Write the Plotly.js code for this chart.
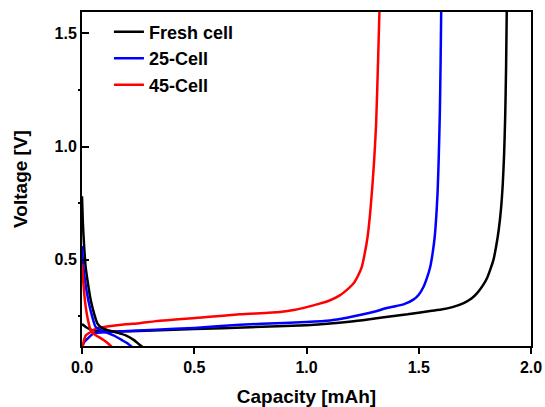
<!DOCTYPE html>
<html>
<head>
<meta charset="utf-8">
<script src="https://cdn.plot.ly/plotly-3.0.1.min.js"></script>
<style>html,body{margin:0;padding:0;background:#fff;}#chart{width:545px;height:407px;}</style>
</head>
<body>
<div id="chart"></div>
<script>
// Series names
const names = ["Fresh cell", "25-Cell", "45-Cell"];
const colors = ["#000000", "#0000ff", "#ff0000"];

// Discharge branches (capacity mAh, voltage V)
const freshDisCap = [0, 0.004, 0.01, 0.016, 0.024, 0.039, 0.054, 0.069, 0.09, 0.12, 0.16, 0.195, 0.23, 0.255, 0.275];
const freshDisV   = [0.78, 0.66, 0.55, 0.47, 0.411, 0.32, 0.261, 0.217, 0.197, 0.187, 0.176, 0.165, 0.145, 0.125, 0.11];
const c25DisCap = [0, 0.005, 0.013, 0.028, 0.046, 0.061, 0.09, 0.12, 0.15, 0.18, 0.205, 0.225];
const c25DisV   = [0.56, 0.48, 0.41, 0.32, 0.246, 0.202, 0.185, 0.173, 0.16, 0.143, 0.128, 0.112];
const c45DisCap = [0, 0.005, 0.013, 0.024, 0.039, 0.061, 0.08, 0.098, 0.115, 0.135];
const c45DisV   = [0.48, 0.41, 0.32, 0.246, 0.187, 0.165, 0.155, 0.143, 0.13, 0.112];

// Charge branches
const freshChCap = [0, 0.02, 0.05, 0.1, 0.25, 0.5, 0.75, 1.0, 1.105, 1.2, 1.328, 1.45, 1.551, 1.6, 1.65, 1.70, 1.735, 1.76, 1.785, 1.805, 1.82, 1.833, 1.845, 1.856, 1.866, 1.874, 1.88, 1.885, 1.889, 1.892];
const freshChV   = [0.215, 0.2, 0.187, 0.183, 0.184, 0.193, 0.201, 0.21, 0.217, 0.226, 0.243, 0.258, 0.273, 0.279, 0.29, 0.308, 0.328, 0.352, 0.385, 0.42, 0.46, 0.5, 0.56, 0.63, 0.72, 0.83, 0.96, 1.13, 1.35, 1.6];
const c25ChCap = [0.002, 0.01, 0.024, 0.04, 0.054, 0.12, 0.329, 0.5, 0.703, 0.9, 1.0, 1.105, 1.18, 1.253, 1.31, 1.358, 1.40, 1.432, 1.476, 1.50, 1.521, 1.537, 1.551, 1.562, 1.571, 1.578, 1.584, 1.589, 1.594, 1.597, 1.6];
const c25ChV   = [0.118, 0.135, 0.15, 0.165, 0.175, 0.18, 0.19, 0.198, 0.212, 0.22, 0.224, 0.231, 0.243, 0.258, 0.272, 0.286, 0.295, 0.302, 0.323, 0.345, 0.379, 0.42, 0.467, 0.53, 0.6, 0.69, 0.8, 0.95, 1.15, 1.35, 1.6];
const c45ChCap = [0.003, 0.008, 0.017, 0.039, 0.061, 0.12, 0.195, 0.257, 0.329, 0.555, 0.703, 0.882, 0.95, 1.001, 1.05, 1.10, 1.15, 1.19, 1.209, 1.23, 1.246, 1.26, 1.272, 1.283, 1.293, 1.302, 1.31, 1.318, 1.325];
const c45ChV   = [0.118, 0.14, 0.165, 0.18, 0.195, 0.205, 0.214, 0.219, 0.228, 0.246, 0.258, 0.268, 0.278, 0.29, 0.303, 0.318, 0.343, 0.375, 0.394, 0.43, 0.467, 0.53, 0.6, 0.7, 0.82, 0.95, 1.1, 1.35, 1.6];

const xTickVals = [0, 0.5, 1.0, 1.5, 2.0];
const xTickText = ["0.0", "0.5", "1.0", "1.5", "2.0"];
const yTickVals = [0.5, 1.0, 1.5];
const yTickText = ["0.5", "1.0", "1.5"];

const dis = [[freshDisCap, freshDisV], [c25DisCap, c25DisV], [c45DisCap, c45DisV]];
const ch = [[freshChCap, freshChV], [c25ChCap, c25ChV], [c45ChCap, c45ChV]];

const traces = [];
for (let i = 0; i < 3; i++) {
  traces.push({x: ch[i][0], y: ch[i][1], mode: 'lines', name: names[i], legendgroup: names[i],
    line: {color: colors[i], width: 2.5, shape: 'spline', smoothing: 0.6}});
}
for (let i = 0; i < 3; i++) {
  traces.push({x: dis[i][0], y: dis[i][1], mode: 'lines', name: names[i], legendgroup: names[i], showlegend: false,
    line: {color: colors[i], width: 2.5, shape: 'spline', smoothing: 0.6}});
}

const fam = '"Liberation Sans", Arial, sans-serif';
const layout = {
  width: 545, height: 407,
  margin: {l: 82, r: 14, t: 12, b: 61, pad: 0},
  paper_bgcolor: '#fff', plot_bgcolor: '#fff',
  font: {family: fam, color: '#000', size: 16, weight: 'bold'},
  showlegend: true,
  legend: {x: 0.06, y: 0.995, xanchor: 'left', yanchor: 'top', bgcolor: 'rgba(0,0,0,0)',
    font: {family: fam, size: 18, weight: 'bold', color: '#000'}, tracegroupgap: 0},
  xaxis: {
    range: [0, 2.0], showgrid: false, zeroline: false, automargin: false,
    showline: true, linecolor: '#000', linewidth: 2, mirror: true,
    ticks: 'outside', ticklen: 6, tickwidth: 2, tickcolor: '#000',
    tickvals: xTickVals, ticktext: xTickText,
    tickfont: {family: fam, size: 16, weight: 'bold', color: '#000'},
    title: {text: 'Capacity [mAh]', font: {family: fam, size: 19, weight: 'bold', color: '#000'}, standoff: 15}
  },
  yaxis: {
    range: [0.118, 1.595], showgrid: false, zeroline: false, automargin: false,
    showline: true, linecolor: '#000', linewidth: 2, mirror: true,
    ticks: 'inside', ticklen: 7, tickwidth: 2, tickcolor: '#000',
    tickvals: yTickVals, ticktext: yTickText,
    minor: {ticks: 'outside', ticklen: 2, tickwidth: 1.5, tickcolor: '#000', tickvals: [0.25, 0.75, 1.25]},
    tickfont: {family: fam, size: 16, weight: 'bold', color: '#000'},
    title: {text: 'Voltage [V]', font: {family: fam, size: 19, weight: 'bold', color: '#000'}, standoff: 22}
  }
};

Plotly.newPlot('chart', traces, layout, {staticPlot: true, displayModeBar: false});
</script>
</body>
</html>
